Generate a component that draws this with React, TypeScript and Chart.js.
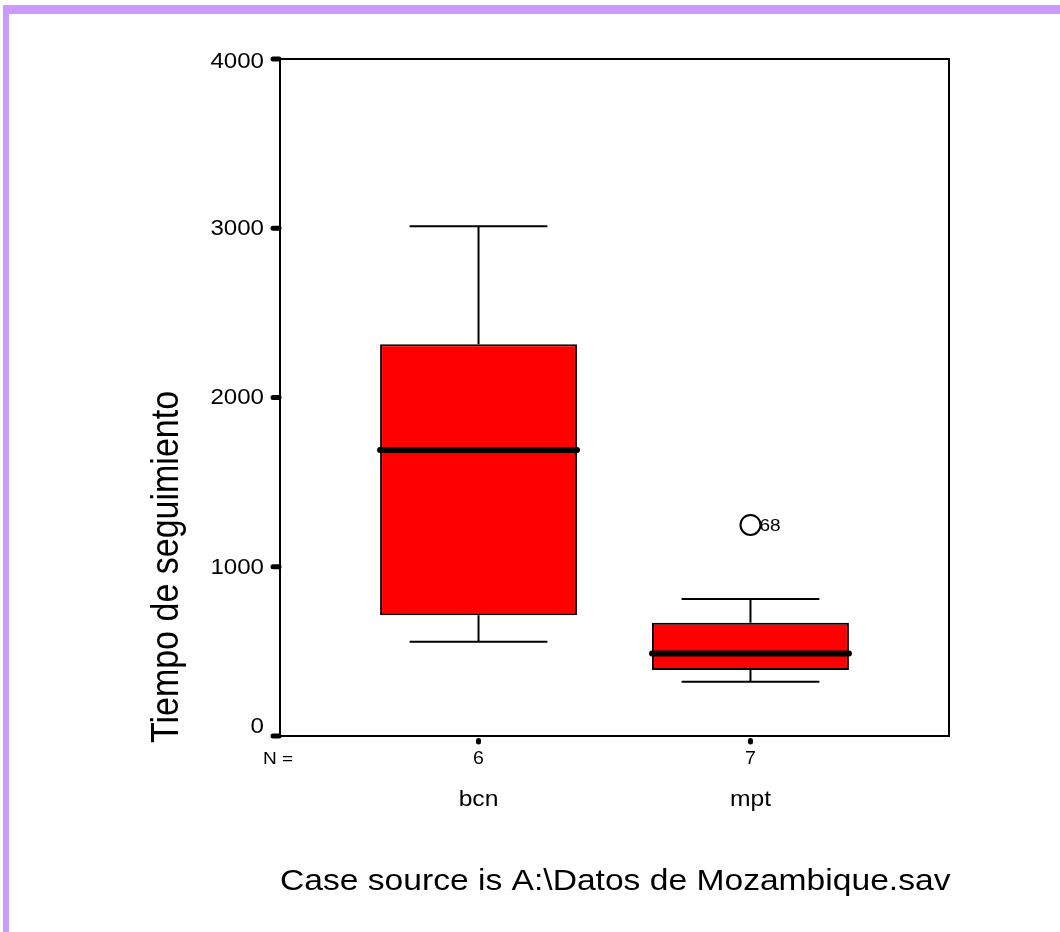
import React, { useEffect, useRef } from "react";
import { Chart, registerables } from "chart.js";

Chart.register(...registerables);

// Groups and their case counts
const CATEGORIES = ["bcn", "mpt"];
const COUNTS = [6, 7];

// Five-number summaries per group (Tiempo de seguimiento)
const WHISKER_LOW = [557, 321];
const Q1 = [713, 390];
const MEDIAN = [1690, 488];
const Q3 = [2315, 669];
const WHISKER_HIGH = [3012, 809];

// Outlying cases: group index, value, case number
const OUTLIER_GROUP = [1];
const OUTLIER_VALUE = [1247];
const OUTLIER_CASE = ["68"];

// Value axis ticks
const Y_TICKS = [0, 1000, 2000, 3000, 4000];

const Y_TITLE = "Tiempo de seguimiento";
const N_LABEL = "N =";
const CAPTION = "Case source is A:\\Datos de Mozambique.sav";

const FONT = '"Liberation Sans", Arial, sans-serif';
const STRETCH = 1.12;
const PURPLE = "#CC99FF";

function drawText(
  ctx: CanvasRenderingContext2D,
  text: string,
  x: number,
  y: number,
  size: number,
  align: CanvasTextAlign,
  baseline: CanvasTextBaseline
) {
  ctx.save();
  ctx.translate(x, y);
  ctx.scale(STRETCH, 1);
  ctx.font = `${size}px ${FONT}`;
  ctx.fillStyle = "#000";
  ctx.textAlign = align;
  ctx.textBaseline = baseline;
  ctx.fillText(text, 0, 0);
  ctx.restore();
}

const boxplotPlugin = {
  id: "boxplotDecor",
  beforeDraw(chart: any) {
    const { ctx, width, height } = chart;
    ctx.save();
    ctx.fillStyle = "#fff";
    ctx.fillRect(0, 0, width, height);
    ctx.fillStyle = PURPLE;
    ctx.fillRect(3, 5, width - 3, 9);
    ctx.fillRect(3, 5, 6, height - 5);
    ctx.restore();
  },
  beforeDatasetsDraw(chart: any) {
    const { ctx } = chart;
    const x = chart.scales.x;
    const y = chart.scales.y;
    const meta = chart.getDatasetMeta(0);
    ctx.save();
    ctx.strokeStyle = "#000";
    ctx.lineWidth = 2;
    CATEGORIES.forEach((_, i) => {
      const bar = meta.data[i];
      const cx = x.getPixelForValue(i);
      const half = (bar.width * 0.7) / 2;
      const yLow = y.getPixelForValue(WHISKER_LOW[i]);
      const yHigh = y.getPixelForValue(WHISKER_HIGH[i]);
      const yQ1 = y.getPixelForValue(Q1[i]);
      const yQ3 = y.getPixelForValue(Q3[i]);
      ctx.beginPath();
      ctx.moveTo(cx, yQ3);
      ctx.lineTo(cx, yHigh);
      ctx.moveTo(cx - half, yHigh);
      ctx.lineTo(cx + half, yHigh);
      ctx.moveTo(cx, yQ1);
      ctx.lineTo(cx, yLow);
      ctx.moveTo(cx - half, yLow);
      ctx.lineTo(cx + half, yLow);
      ctx.stroke();
    });
    ctx.restore();
  },
  afterDatasetsDraw(chart: any) {
    const { ctx, chartArea } = chart;
    const { left, right, top, bottom } = chartArea;
    const x = chart.scales.x;
    const y = chart.scales.y;
    const meta = chart.getDatasetMeta(0);
    ctx.save();

    // medians
    ctx.strokeStyle = "#000";
    ctx.lineCap = "round";
    ctx.lineWidth = 6;
    CATEGORIES.forEach((_, i) => {
      const bar = meta.data[i];
      const ym = y.getPixelForValue(MEDIAN[i]);
      ctx.beginPath();
      ctx.moveTo(bar.x - bar.width / 2, ym);
      ctx.lineTo(bar.x + bar.width / 2, ym);
      ctx.stroke();
    });

    // frame
    ctx.lineCap = "butt";
    ctx.lineWidth = 2;
    ctx.strokeRect(left, top, right - left, bottom - top);

    // value axis ticks and labels
    ctx.lineCap = "round";
    ctx.lineWidth = 5;
    Y_TICKS.forEach((v) => {
      const py = y.getPixelForValue(v);
      ctx.beginPath();
      ctx.moveTo(left - 7, py);
      ctx.lineTo(left - 1, py);
      ctx.stroke();
      if (py > bottom - 12) {
        drawText(ctx, String(v), left - 16, bottom - 3, 21.5, "right", "alphabetic");
      } else {
        drawText(ctx, String(v), left - 16, Math.max(py, top + 2) + 1, 21.5, "right", "middle");
      }
    });

    // category ticks, counts and names
    CATEGORIES.forEach((name, i) => {
      const px = x.getPixelForValue(i);
      ctx.beginPath();
      ctx.moveTo(px, bottom + 4.5);
      ctx.lineTo(px, bottom + 6);
      ctx.stroke();
      drawText(ctx, String(COUNTS[i]), px, bottom + 23, 17.5, "center", "middle");
      drawText(ctx, name, px, bottom + 70, 22, "center", "alphabetic");
    });
    drawText(ctx, N_LABEL, left - 2, bottom + 23, 17, "center", "middle");

    // outlier case labels
    const om = chart.getDatasetMeta(1);
    OUTLIER_CASE.forEach((label, k) => {
      const pt = om.data[k];
      drawText(ctx, label, pt.x + 9, pt.y + 1, 17, "left", "middle");
    });

    // value axis title
    ctx.save();
    ctx.translate(167, 567);
    ctx.rotate(-Math.PI / 2);
    ctx.scale(1, STRETCH);
    ctx.font = `34px ${FONT}`;
    ctx.fillStyle = "#000";
    ctx.textAlign = "center";
    ctx.textBaseline = "middle";
    ctx.fillText(Y_TITLE, 0, 0);
    ctx.restore();

    // caption
    drawText(ctx, CAPTION, left, 890, 30, "left", "alphabetic");

    ctx.restore();
  },
};

export default function App() {
  const canvasRef = useRef<HTMLCanvasElement | null>(null);

  useEffect(() => {
    const canvas = canvasRef.current;
    if (!canvas) return;
    const chart = new Chart(canvas, {
      type: "bar",
      data: {
        datasets: [
          {
            type: "bar",
            data: CATEGORIES.map((_, i) => ({ x: i, y: [Q1[i], Q3[i]] })) as any,
            backgroundColor: "#FF0000",
            borderColor: "#000",
            borderWidth: 2,
            borderSkipped: false,
            barPercentage: 0.724,
            categoryPercentage: 1,
          },
          {
            type: "scatter",
            data: OUTLIER_VALUE.map((v, k) => ({ x: OUTLIER_GROUP[k], y: v })),
            pointStyle: "circle",
            pointRadius: 10,
            borderColor: "#000",
            borderWidth: 2,
            backgroundColor: "rgba(0,0,0,0)",
          },
        ],
      } as any,
      options: {
        animation: false,
        responsive: false,
        devicePixelRatio: 1,
        layout: { padding: { left: 280, top: 59, right: 111, bottom: 196 } },
        plugins: { legend: { display: false }, tooltip: { enabled: false } },
        scales: {
          x: {
            type: "linear",
            min: -0.73,
            max: 1.73,
            offset: false,
            display: false,
            // one tick per group, so bar widths follow the group spacing
            afterBuildTicks: (scale: any) => {
              scale.ticks = CATEGORIES.map((_, i) => ({ value: i }));
            },
          },
          y: { type: "linear", min: 0, max: 4000, display: false },
        },
      } as any,
      plugins: [boxplotPlugin],
    });
    return () => chart.destroy();
  }, []);

  return (
    <div style={{ position: "fixed", left: 0, top: 0, width: 1060, height: 932, background: "#fff" }}>
      <canvas ref={canvasRef} width={1060} height={932} style={{ display: "block" }} />
    </div>
  );
}
